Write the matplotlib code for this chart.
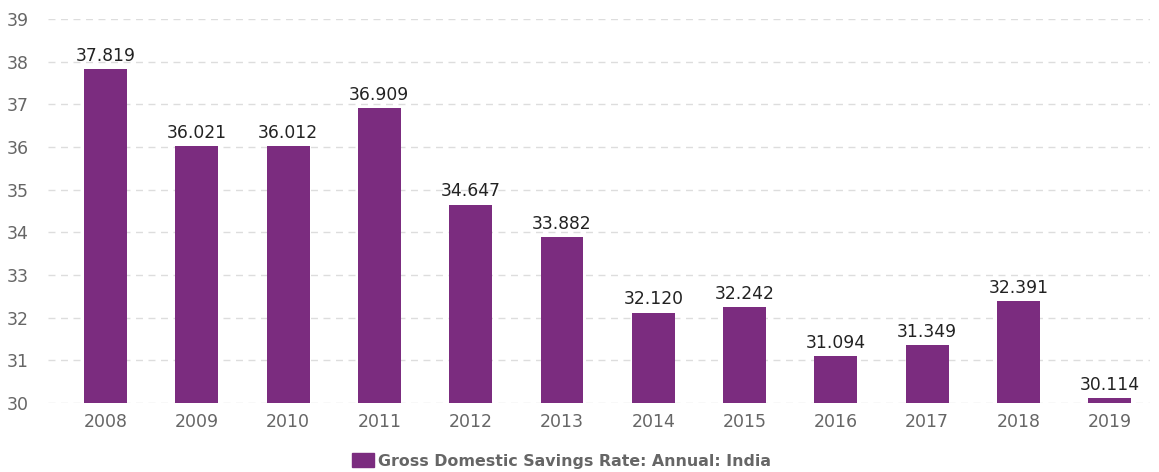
import matplotlib.pyplot as plt
from matplotlib.patches import Patch

plt.rcParams['font.family'] = ['DejaVu Sans']

years = ['2008', '2009', '2010', '2011', '2012', '2013', '2014', '2015', '2016', '2017', '2018', '2019']
rates = [37.819, 36.021, 36.012, 36.909, 34.647, 33.882, 32.120, 32.242, 31.094, 31.349, 32.391, 30.114]
bar_color = '#7b2c7f'

fig = plt.figure(figsize=(11.59, 4.72), dpi=100)
ax = fig.add_axes([48 / 1159, 1 - 403 / 472, (1150 - 48) / 1159, (403 - 19) / 472])

x = range(len(years))
ax.bar(x, rates, width=0.47, bottom=0, color=bar_color, zorder=2)
for i, v in enumerate(rates):
    ax.text(i, v + 0.1, f'{v:.3f}', ha='center', va='bottom', fontsize=12.3, color='#222222')

ax.set_ylim(30, 39)
ax.set_xlim(-0.629, 11.44)
ax.set_yticks(range(30, 40))
ax.set_xticks(list(x))
ax.set_xticklabels(years)
ax.tick_params(axis='both', length=0, labelsize=12.5, colors='#666666')
ax.tick_params(axis='x', pad=7)
ax.tick_params(axis='y', pad=14)
ax.grid(axis='y', color='#dddddd', linestyle=(0, (5, 4)), linewidth=1, zorder=0)
for s in ax.spines.values():
    s.set_visible(False)

fig.legend(handles=[Patch(color=bar_color, label='Gross Domestic Savings Rate: Annual: India')],
           loc='center', bbox_to_anchor=(0.4845, 1 - 461 / 472), frameon=False,
           handlelength=1.4, handleheight=0.9, handletextpad=0.3,
           prop={'weight': 'bold', 'size': 11.4}, labelcolor='#666666')

fig.savefig('out.png', dpi=100)
